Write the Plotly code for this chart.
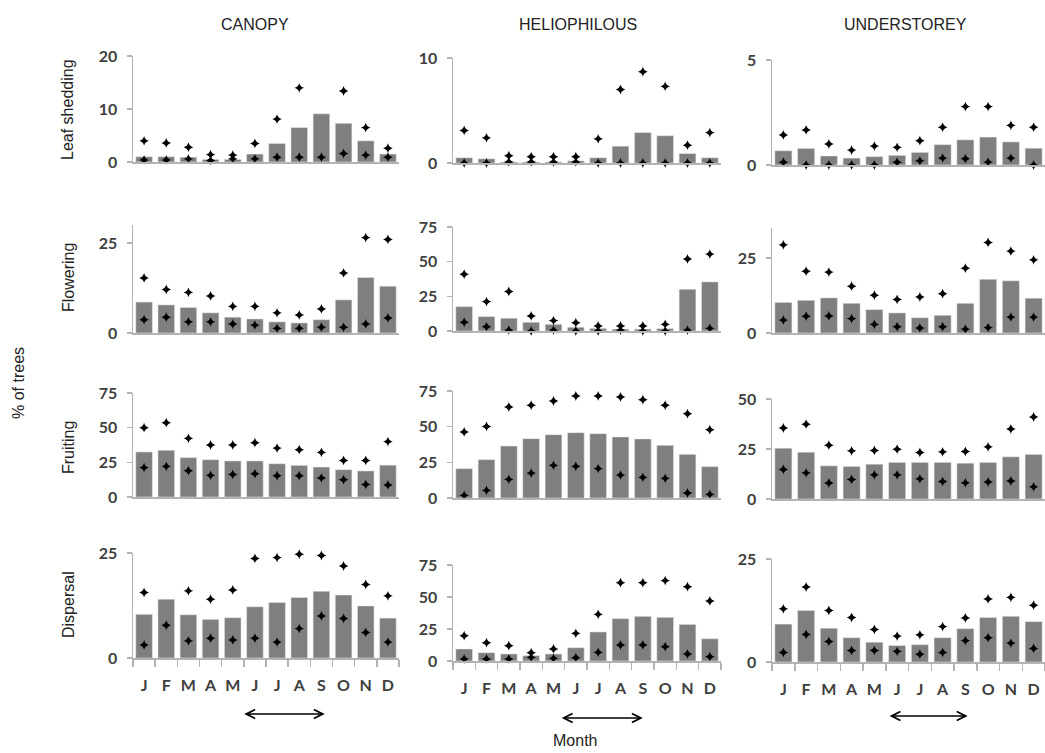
import plotly.graph_objects as go

# ---------------- data ----------------
months = ["J", "F", "M", "A", "M", "J", "J", "A", "S", "O", "N", "D"]
groups = ["CANOPY", "HELIOPHILOUS", "UNDERSTOREY"]
phases = ["Leaf shedding", "Flowering", "Fruiting", "Dispersal"]

# Leaf shedding
leaf_canopy_mean = [1.0, 1.0, 0.9, 0.5, 0.5, 1.5, 3.5, 6.5, 9.1, 7.3, 4.0, 1.5]
leaf_canopy_max = [4.0, 3.6, 2.8, 1.4, 1.3, 3.5, 8.1, 14.0, 20.1, 13.4, 6.5, 2.6]
leaf_canopy_min = [0.4, 0.4, 0.6, 0.3, 0.6, 0.6, 0.9, 0.9, 0.9, 1.6, 1.3, 0.9]
leaf_helio_mean = [0.5, 0.4, 0.1, 0.1, 0.1, 0.2, 0.5, 1.6, 2.9, 2.6, 0.9, 0.5]
leaf_helio_max = [3.1, 2.4, 0.7, 0.6, 0.6, 0.6, 2.3, 7.0, 8.7, 7.3, 1.7, 2.9]
leaf_helio_min = [0.0, 0.0, 0.1, 0.1, 0.1, 0.1, 0.0, 0.0, 0.0, 0.0, 0.0, 0.0]
leaf_under_mean = [0.68, 0.79, 0.43, 0.33, 0.40, 0.46, 0.60, 0.97, 1.20, 1.33, 1.10, 0.80]
leaf_under_max = [1.43, 1.67, 1.00, 0.71, 0.90, 0.84, 1.16, 1.80, 2.78, 2.78, 1.89, 1.80]
leaf_under_min = [0.13, 0.0, 0.0, 0.0, 0.0, 0.13, 0.2, 0.33, 0.3, 0.14, 0.33, 0.0]

# Flowering
flow_canopy_mean = [8.6, 7.8, 7.1, 5.6, 4.4, 3.9, 3.1, 2.8, 3.7, 9.2, 15.4, 13.0]
flow_canopy_max = [15.3, 12.1, 11.3, 10.3, 7.4, 7.4, 5.6, 5.0, 6.7, 16.7, 26.5, 26.0]
flow_canopy_min = [3.7, 4.4, 3.1, 3.1, 2.5, 2.2, 1.3, 1.3, 1.6, 1.6, 2.5, 4.2]
flow_helio_mean = [17.6, 10.4, 9.2, 6.3, 4.8, 2.7, 1.9, 1.4, 1.4, 1.7, 30.1, 35.4]
flow_helio_max = [41.0, 21.2, 28.5, 10.9, 7.5, 6.0, 3.6, 3.6, 3.6, 4.8, 52.0, 55.5]
flow_helio_min = [6.3, 3.1, 0.7, 0.0, 0.7, 0.0, 0.0, 0.7, 0.0, 0.0, 0.7, 1.9]
flow_under_mean = [10.2, 10.9, 11.7, 9.9, 7.8, 6.7, 5.1, 5.9, 9.9, 17.9, 17.4, 11.6]
flow_under_max = [29.4, 20.6, 20.3, 15.6, 12.6, 11.2, 12.0, 13.1, 21.6, 30.2, 27.3, 24.4]
flow_under_min = [4.3, 5.6, 5.7, 4.8, 2.9, 2.1, 1.7, 2.1, 1.3, 1.8, 5.3, 5.3]

# Fruiting
fruit_canopy_mean = [32.5, 33.7, 28.4, 26.9, 26.0, 26.0, 24.0, 22.8, 21.6, 19.7, 18.8, 23.0]
fruit_canopy_max = [50.0, 53.6, 42.3, 37.5, 37.5, 39.2, 35.3, 34.1, 32.2, 26.4, 26.4, 40.0]
fruit_canopy_min = [21.2, 22.1, 19.0, 15.6, 16.3, 16.8, 15.4, 15.4, 13.7, 12.5, 9.1, 8.7]
fruit_helio_mean = [20.6, 26.9, 36.4, 41.6, 44.4, 45.8, 45.1, 42.8, 41.4, 36.9, 30.6, 22.0]
fruit_helio_max = [46.3, 50.2, 63.8, 65.0, 68.0, 71.5, 71.5, 70.8, 68.9, 65.0, 59.1, 47.9]
fruit_helio_min = [1.9, 5.4, 13.1, 17.5, 22.9, 22.2, 20.6, 16.1, 14.5, 13.8, 3.5, 2.6]
fruit_under_mean = [25.4, 23.4, 16.6, 16.3, 17.4, 18.3, 18.3, 18.3, 17.9, 18.3, 21.1, 22.3]
fruit_under_max = [35.5, 37.4, 26.9, 24.1, 24.3, 24.9, 23.3, 23.6, 23.8, 26.1, 35.0, 41.0]
fruit_under_min = [14.8, 13.1, 8.0, 9.8, 12.1, 12.1, 10.1, 8.8, 8.1, 8.5, 9.0, 6.1]

# Dispersal
disp_canopy_mean = [10.4, 14.0, 10.3, 9.2, 9.6, 12.2, 13.2, 14.4, 15.9, 15.0, 12.4, 9.5]
disp_canopy_max = [15.6, None, 16.0, 14.0, 16.2, 23.7, 23.9, 24.7, 24.4, 21.9, 17.5, 14.8]
disp_canopy_min = [3.1, 7.8, 4.1, 4.7, 4.3, 4.7, 3.8, 7.0, 10.0, 9.4, 6.1, 3.8]
disp_helio_mean = [9.4, 6.5, 5.5, 4.2, 5.5, 10.4, 22.7, 33.1, 34.9, 34.1, 28.6, 17.4]
disp_helio_max = [19.8, 14.3, 12.0, 6.5, 9.4, 21.6, 36.5, 61.2, 61.2, 62.8, 58.1, 46.9]
disp_helio_min = [1.6, 1.6, 1.6, 2.9, 2.1, 2.6, 6.8, 12.5, 12.5, 11.2, 5.5, 3.4]
disp_under_mean = [9.2, 12.5, 8.2, 5.9, 4.8, 4.0, 4.2, 5.9, 8.1, 10.8, 11.1, 9.8]
disp_under_max = [12.9, 18.2, 12.5, 10.8, 7.9, 6.3, 6.6, 8.6, 10.7, 15.3, 15.7, 13.8]
disp_under_min = [2.3, 6.7, 5.0, 2.8, 2.8, 2.6, 1.9, 2.3, 5.2, 5.9, 4.6, 3.3]

# y-axis extents and tick values per panel (row-major)
y_max = [[20, 10, 5], [30, 75, 35], [75, 75, 50], [25, 75, 25]]
y_ticks = [[[0, 10, 20], [0, 10], [0, 5]],
           [[0, 25], [0, 25, 50, 75], [0, 25]],
           [[0, 25, 50, 75], [0, 25, 50, 75], [0, 25, 50]],
           [[0, 25], [0, 25, 50, 75], [0, 25]]]

# dry-season arrow span (month index) per group
dry_season = [[4.45, 8.15], [4.3, 8.0], [4.6, 8.1]]

panels = [
    [(leaf_canopy_mean, leaf_canopy_max, leaf_canopy_min),
     (leaf_helio_mean, leaf_helio_max, leaf_helio_min),
     (leaf_under_mean, leaf_under_max, leaf_under_min)],
    [(flow_canopy_mean, flow_canopy_max, flow_canopy_min),
     (flow_helio_mean, flow_helio_max, flow_helio_min),
     (flow_under_mean, flow_under_max, flow_under_min)],
    [(fruit_canopy_mean, fruit_canopy_max, fruit_canopy_min),
     (fruit_helio_mean, fruit_helio_max, fruit_helio_min),
     (fruit_under_mean, fruit_under_max, fruit_under_min)],
    [(disp_canopy_mean, disp_canopy_max, disp_canopy_min),
     (disp_helio_mean, disp_helio_max, disp_helio_min),
     (disp_under_mean, disp_under_max, disp_under_min)],
]

# ---------------- layout geometry (pixels) ----------------
W, H = 1045, 753
col_px = [(133, 399), (453, 721), (772, 1045)]
row_px = [[(56, 162), (58, 163), (60, 165)],
          [(225, 333), (227, 331), (228, 333)],
          [(393, 497), (391, 498), (399, 499)],
          [(553, 658), (565, 661), (559, 662)]]

AX_COL = "#b3b3b3"
BAR_COL = "#7f7f7f"
TICK_FONT = dict(family="Lato, Open Sans, sans-serif", size=16, color="#404040", weight="bold")
LABEL_FONT = dict(family="Liberation Sans, Arial, sans-serif", size=16, color="#222222")

fig = go.Figure()
layout = {}
x = list(range(12))
for r in range(4):
    for c in range(3):
        k = r * 3 + c + 1
        sx = "" if k == 1 else str(k)
        mean, mx, mn = panels[r][c]
        fig.add_trace(go.Bar(x=x, y=mean, marker_color=BAR_COL, width=0.75,
                             xaxis="x" + sx, yaxis="y" + sx, showlegend=False))
        for ser in (mx, mn):
            fig.add_trace(go.Scatter(x=x, y=ser, mode="markers",
                                     marker=dict(symbol="star-diamond", size=7, color="black"),
                                     cliponaxis=False, xaxis="x" + sx, yaxis="y" + sx,
                                     showlegend=False))
        x0, x1 = col_px[c]
        yt, yb = row_px[r][c]
        xa = dict(domain=[x0 / W, min(x1 / W, 1.0)], anchor="y" + sx, range=[-0.5, 11.5],
                  showline=True, linecolor=AX_COL, linewidth=1.5, showgrid=False,
                  zeroline=False, fixedrange=True, automargin=False)
        if r == 3:
            xa.update(tickmode="array", tickvals=x, ticktext=months, ticks="",
                      tickfont=TICK_FONT, ticklabelstandoff=12,
                      minor=dict(tickmode="array", tickvals=[i - 0.5 for i in range(13)],
                                 ticks="outside", ticklen=7, tickwidth=1.5, tickcolor=AX_COL))
        else:
            xa.update(showticklabels=False, ticks="")
        ya = dict(domain=[1 - yb / H, 1 - yt / H], anchor="x" + sx, range=[0, y_max[r][c]],
                  showline=True, linecolor=AX_COL, linewidth=1.5, showgrid=False,
                  zeroline=False, tickmode="array", tickvals=y_ticks[r][c],
                  ticks="outside", ticklen=5, tickwidth=1.5, tickcolor=AX_COL,
                  tickfont=TICK_FONT, ticklabelstandoff=6, fixedrange=True,
                  automargin=False)
        layout["xaxis" + sx] = xa
        layout["yaxis" + sx] = ya

annotations = []
# column titles
title_cx = [255, 578, 905]
for c, g in enumerate(groups):
    annotations.append(dict(text=g, x=title_cx[c] / W, y=1 - 25 / H, xref="paper", yref="paper",
                            showarrow=False, font=LABEL_FONT,
                            xanchor="center", yanchor="middle"))
# row titles
row_cy = [110, 278, 448, 605]
for r, p in enumerate(phases):
    annotations.append(dict(text=p, x=68 / W, y=1 - row_cy[r] / H, xref="paper", yref="paper",
                            showarrow=False, textangle=-90, font=LABEL_FONT,
                            xanchor="center", yanchor="middle"))
annotations.append(dict(text="% of trees", x=18 / W, y=1 - 383 / H, xref="paper", yref="paper",
                        showarrow=False, textangle=-90, font=LABEL_FONT,
                        xanchor="center", yanchor="middle"))
annotations.append(dict(text="Month", x=575 / W, y=1 - 740 / H, xref="paper", yref="paper",
                        showarrow=False, font=LABEL_FONT,
                        xanchor="center", yanchor="middle"))
# dry-season arrows
arrow_y = [714, 718, 716]
for c in range(3):
    k = 9 + c + 1
    a, b = dry_season[c]
    annotations.append(dict(x=b, y=1 - arrow_y[c] / H, xref="x" + str(k), yref="paper",
                            ax=a, ay=0, axref="x" + str(k), ayref="pixel",
                            showarrow=True, arrowhead=5, arrowside="end+start",
                            arrowsize=1.1, arrowwidth=1.6, arrowcolor="black", text=""))

fig.update_layout(**layout)
fig.update_layout(width=W, height=H, margin=dict(l=0, r=0, t=0, b=0, pad=0),
                  paper_bgcolor="white", plot_bgcolor="white", bargap=0.25,
                  annotations=annotations, showlegend=False, hovermode=False)
fig.write_html("out.html", config={"displayModeBar": False, "staticPlot": True},
               post_script="document.body.style.margin='0';document.body.style.overflow='hidden';")
